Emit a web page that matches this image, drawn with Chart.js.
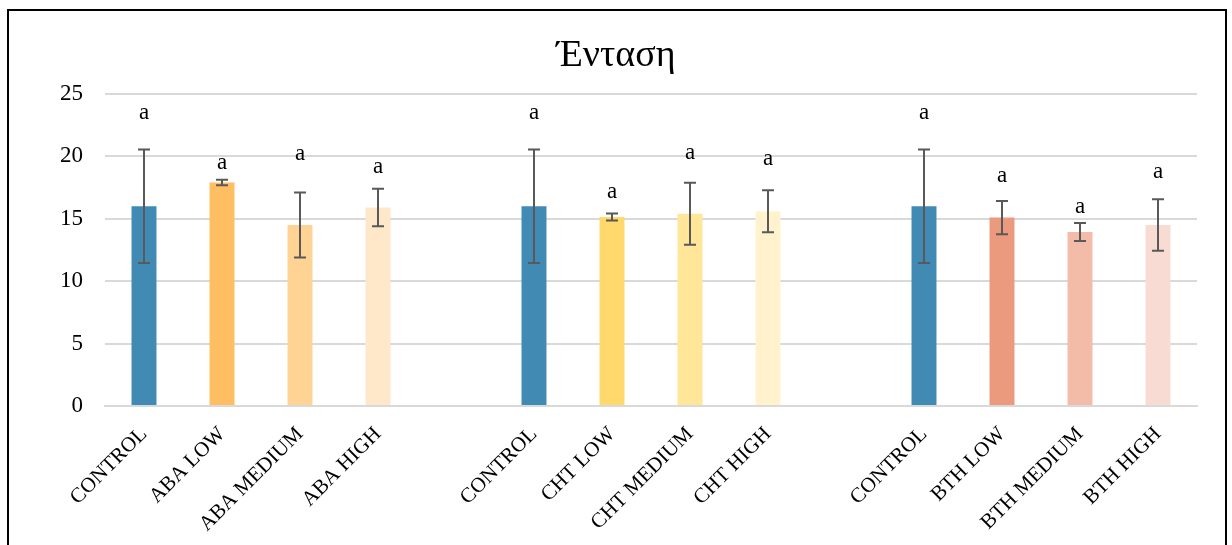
<!DOCTYPE html>
<html>
<head>
<meta charset="utf-8">
<script src="https://cdn.jsdelivr.net/npm/chart.js@4"></script>
<style>
  html, body { margin: 0; padding: 0; background: #fff; }
  #wrap { position: relative; width: 1232px; height: 545px; overflow: hidden; }
  #frame { position: absolute; left: 7px; top: 9px; width: 1220px; height: 560px;
           border: 2px solid #000; box-sizing: border-box; pointer-events: none; }
  canvas { position: absolute; left: 0; top: 0; }
</style>
</head>
<body>
<div id="wrap">
  <canvas id="intensityChart" width="1232" height="545"></canvas>
  <div id="frame"></div>
</div>
<script>
// --- δεδομένα (κενές θέσεις = απόσταση μεταξύ ομάδων) ---
const categories = ['CONTROL', 'ABA LOW', 'ABA MEDIUM', 'ABA HIGH', '',
                    'CONTROL', 'CHT LOW', 'CHT MEDIUM', 'CHT HIGH', '',
                    'CONTROL', 'BTH LOW', 'BTH MEDIUM', 'BTH HIGH'];
const means = [16.0, 17.9, 14.5, 15.9, null,
               16.0, 15.15, 15.4, 15.6, null,
               16.0, 15.1, 13.95, 14.5];
const errors = [4.55, 0.22, 2.6, 1.5, null,
                4.55, 0.28, 2.48, 1.68, null,
                4.55, 1.33, 0.72, 2.07];
const letters = ['a', 'a', 'a', 'a', '', 'a', 'a', 'a', 'a', '', 'a', 'a', 'a', 'a'];
const yTicks = [0, 5, 10, 15, 20, 25];
const chartTitle = 'Ένταση';

const barColors = ['#418AB3', '#FEBE61', '#FED393', '#FFE8C9', '#fff',
                   '#418AB3', '#FFD96B', '#FFE699', '#FFF2CC', '#fff',
                   '#418AB3', '#EC9A7D', '#F3BCA8', '#F8DCD3'];

// ύψος (σε μονάδες άξονα) όπου κάθεται το γράμμα σημαντικότητας
const letterHeight = [23.3, 19.3, 20.0, 19.0, null,
                      23.3, 17.0, 20.1, 19.65, null,
                      23.3, 18.3, 15.8, 18.6];

const serif = "'Liberation Serif', 'DejaVu Serif', serif";

// τίτλος στο κέντρο όλου του καμβά (όχι μόνο της περιοχής γραφήματος)
const titlePlugin = {
    id: 'centerTitle',
    afterDraw(chart) {
        const ctx = chart.ctx;
        ctx.save();
        ctx.fillStyle = '#000';
        ctx.font = '38px ' + serif;
        ctx.textAlign = 'center';
        ctx.textBaseline = 'middle';
        ctx.fillText(chartTitle, chart.width / 2, 56);
        ctx.restore();
    }
};

// error bars + γράμματα πάνω από τις στήλες
const errorBarPlugin = {
    id: 'errorBars',
    afterDatasetsDraw(chart) {
        const ctx = chart.ctx;
        const xs = chart.scales.x, ys = chart.scales.y;
        ctx.save();
        ctx.strokeStyle = '#595959';
        ctx.lineWidth = 2;
        means.forEach((m, i) => {
            if (m === null) return;
            const x = xs.getPixelForValue(i);
            const top = ys.getPixelForValue(m + errors[i]);
            const bot = ys.getPixelForValue(m - errors[i]);
            ctx.beginPath();
            ctx.moveTo(x, top); ctx.lineTo(x, bot);
            ctx.moveTo(x - 6, top); ctx.lineTo(x + 6, top);
            ctx.moveTo(x - 6, bot); ctx.lineTo(x + 6, bot);
            ctx.stroke();
        });
        ctx.fillStyle = '#000';
        ctx.font = '23px ' + serif;
        ctx.textAlign = 'center';
        ctx.textBaseline = 'middle';
        letters.forEach((t, i) => {
            if (!t) return;
            ctx.fillText(t, xs.getPixelForValue(i), ys.getPixelForValue(letterHeight[i]) - 2);
        });
        ctx.restore();
    }
};

window.onload = function() {
    const ctx = document.getElementById('intensityChart').getContext('2d');
    new Chart(ctx, {
        type: 'bar',
        data: {
            labels: categories,
            datasets: [{
                data: means,
                backgroundColor: barColors,
                categoryPercentage: 1,
                barPercentage: 0.32
            }]
        },
        options: {
            responsive: false,
            animation: false,
            layout: { padding: { left: 0, right: 35, top: 94, bottom: 0 } },
            plugins: {
                legend: { display: false },
                tooltip: { enabled: false },
                title: { display: false }
            },
            scales: {
                x: {
                    grid: { display: false, drawTicks: false },
                    border: { color: '#d9d9d9', width: 2 },
                    ticks: {
                        color: '#000',
                        font: { family: serif, size: 21 },
                        minRotation: 45,
                        maxRotation: 45,
                        autoSkip: false,
                        padding: 16
                    },
                    afterFit(scale) { scale.height = 139; }
                },
                y: {
                    min: 0,
                    max: 25,
                    afterBuildTicks(scale) { scale.ticks = yTicks.map(v => ({ value: v })); },
                    grid: { color: '#d9d9d9', lineWidth: 2, drawTicks: false },
                    border: { display: false },
                    ticks: {
                        color: '#000',
                        font: { family: serif, size: 23 },
                        padding: 22
                    },
                    afterFit(scale) { scale.width = 105; }
                }
            }
        },
        plugins: [errorBarPlugin, titlePlugin]
    });
};
</script>
</body>
</html>
